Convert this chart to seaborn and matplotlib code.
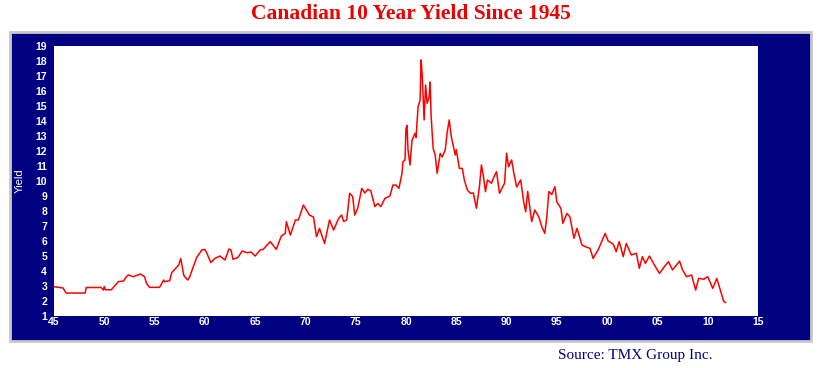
import numpy as np
import matplotlib
matplotlib.use("Agg")
import matplotlib.pyplot as plt
import seaborn as sns
import pandas as pd
from matplotlib.patches import Rectangle

# values (year, 10y yield %)
years = [1945.0, 1945.9, 1946.2, 1948.1, 1948.2, 1949.7, 1949.9, 1950.0, 1950.1, 1950.7,
         1951.4, 1951.9, 1952.2, 1952.4, 1952.9, 1953.6, 1954.0, 1954.2, 1954.5, 1955.5,
         1955.9, 1956.0, 1956.5, 1956.7, 1957.0, 1957.4, 1957.6, 1957.9, 1958.0, 1958.3,
         1958.5, 1958.85, 1959.2, 1959.7, 1960.0, 1960.2, 1960.6, 1961.0, 1961.5, 1962.0,
         1962.4, 1962.6, 1962.8, 1963.3, 1963.7, 1964.2, 1964.6, 1965.0, 1965.5, 1965.8,
         1966.5, 1966.8, 1967.1, 1967.6, 1968.0, 1968.1, 1968.5, 1969.0, 1969.3, 1969.8,
         1970.1, 1970.4, 1970.8, 1971.1, 1971.4, 1971.9, 1972.4, 1972.8, 1973.3, 1973.6,
         1973.8, 1974.1, 1974.4, 1974.7, 1974.9, 1975.2, 1975.6, 1975.9, 1976.2, 1976.5,
         1976.9, 1977.2, 1977.5, 1977.9, 1978.4, 1978.7, 1979.0, 1979.3, 1979.6, 1979.7,
         1979.9, 1980.0, 1980.1, 1980.2, 1980.4, 1980.6, 1980.9, 1981.0, 1981.2, 1981.4,
         1981.5, 1981.6, 1981.8, 1981.95, 1982.1, 1982.3, 1982.4, 1982.5, 1982.7, 1982.9,
         1983.1, 1983.4, 1983.6, 1983.9, 1984.1, 1984.3, 1984.5, 1984.9, 1985.0, 1985.3,
         1985.6, 1985.8, 1986.1, 1986.4, 1986.7, 1987.0, 1987.3, 1987.5, 1987.7, 1987.9,
         1988.1, 1988.5, 1988.7, 1989.0, 1989.3, 1989.6, 1989.8, 1990.0, 1990.2, 1990.5,
         1990.7, 1991.0, 1991.4, 1991.7, 1991.9, 1992.1, 1992.5, 1992.8, 1993.2, 1993.5,
         1993.8, 1994.0, 1994.2, 1994.5, 1994.8, 1995.0, 1995.4, 1995.6, 1996.0, 1996.3,
         1996.7, 1997.0, 1997.5, 1997.9, 1998.3, 1998.6, 1999.1, 1999.8, 2000.1, 2000.6,
         2000.9, 2001.2, 2001.6, 2001.9, 2002.4, 2002.9, 2003.2, 2003.5, 2003.8, 2004.2,
         2004.7, 2005.2, 2005.7, 2006.1, 2006.5, 2007.2, 2007.5, 2007.9, 2008.4, 2008.8,
         2009.1, 2009.6, 2010.0, 2010.5, 2010.9, 2011.1, 2011.4, 2011.6, 2011.8]
yields = [2.95, 2.87, 2.53, 2.53, 2.9, 2.9, 2.73, 2.97, 2.75, 2.75,
          3.29, 3.33, 3.62, 3.73, 3.62, 3.8, 3.62, 3.18, 2.91, 2.91,
          3.4, 3.29, 3.35, 3.89, 4.11, 4.4, 4.84, 3.73, 3.62, 3.4,
          3.62, 4.29, 4.91, 5.4, 5.44, 5.18, 4.56, 4.84, 5.0, 4.73,
          5.47, 5.4, 4.78, 4.91, 5.33, 5.22, 5.26, 5.0, 5.4, 5.44,
          5.96, 5.7, 5.44, 6.33, 6.51, 7.29, 6.4, 7.4, 7.4, 8.4,
          8.07, 7.73, 7.6, 6.29, 6.84, 5.84, 7.4, 6.73, 7.51, 7.73,
          7.3, 7.4, 9.18, 8.96, 7.73, 8.18, 9.51, 9.2, 9.44, 9.35,
          8.29, 8.51, 8.29, 8.84, 9.0, 9.73, 9.73, 9.51, 10.51, 11.29,
          11.4, 13.5, 13.7, 12.07, 11.07, 12.73, 13.18, 12.9, 14.95, 15.4,
          18.07, 17.2, 14.07, 16.4, 15.18, 15.6, 16.6, 14.29, 12.18, 11.73,
          10.51, 11.84, 11.6, 12.07, 13.29, 14.07, 12.96, 11.73, 12.1, 10.84,
          10.84, 10.07, 9.4, 9.18, 9.2, 8.18, 9.62, 11.07, 10.3, 9.29,
          10.07, 9.85, 10.2, 10.62, 9.18, 9.6, 9.85, 11.84, 10.95, 11.4,
          10.62, 9.6, 10.07, 8.62, 7.95, 9.3, 7.29, 8.07, 7.62, 6.95,
          6.51, 7.6, 9.29, 9.1, 9.62, 8.6, 8.18, 7.18, 7.84, 7.6,
          6.18, 6.84, 5.73, 5.6, 5.51, 4.84, 5.4, 6.51, 6.0, 5.8,
          5.29, 5.96, 4.96, 5.84, 5.07, 5.18, 4.18, 4.96, 4.51, 5.0,
          4.4, 3.84, 4.3, 4.62, 4.07, 4.66, 4.07, 3.62, 3.73, 2.73,
          3.51, 3.45, 3.62, 2.84, 3.51, 3.07, 2.4, 1.96, 1.9]

x_ticks = list(range(1945, 2016, 5))
x_labels = ["%02d" % (y % 100) for y in x_ticks]
y_ticks = list(range(1, 20))

df = pd.DataFrame({"year": years, "yield": yields})

sns.set_style("white")
plt.rcParams["font.family"] = ["Liberation Sans", "DejaVu Sans"]

navy = "#000080"
fig = plt.figure(figsize=(8.21, 3.68), dpi=100)

# navy panel behind the plot
panel = Rectangle((10 / 821, 1 - 341 / 368), 801 / 821, 309 / 368,
                  transform=fig.transFigure, facecolor=navy,
                  edgecolor="#c8c8c8", linewidth=2, zorder=-5)
fig.patches.append(panel)

ax = fig.add_axes([54 / 821, 1 - 316 / 368, 704 / 821, 270 / 368])
ax.set_zorder(2)
ax.set_facecolor("white")
sns.lineplot(data=df, x="year", y="yield", color="red", linewidth=1.1,
             estimator=None, ax=ax)

ax.set_xlim(1945, 2015)
ax.set_ylim(1, 19)
ax.set_xticks(x_ticks)
ax.set_xticklabels(x_labels)
ax.set_yticks(y_ticks)
for s in ax.spines.values():
    s.set_visible(False)
ax.tick_params(axis="both", colors="#a0a0a0", length=3, width=0.8,
               labelcolor="white", labelsize=7.5, pad=2)
ax.tick_params(axis="x", direction="in", length=2, pad=1)
for lab in ax.get_xticklabels() + ax.get_yticklabels():
    lab.set_fontweight("bold")
ax.set_xlabel("")
ax.set_ylabel("Yield", color="white", fontsize=8, labelpad=8)

fig.text(0.5, 1 - 14 / 368, "Canadian 10 Year Yield Since 1945",
         ha="center", va="center", color="#ee0000", fontsize=15.5,
         fontweight="bold", family=["Liberation Serif", "DejaVu Serif"])
fig.text(713 / 821, 1 - 356 / 368, "Source: TMX Group Inc.",
         ha="right", va="center", color=navy, fontsize=11,
         family=["Liberation Serif", "DejaVu Serif"])

fig.savefig("out.png", dpi=100, facecolor="white")
